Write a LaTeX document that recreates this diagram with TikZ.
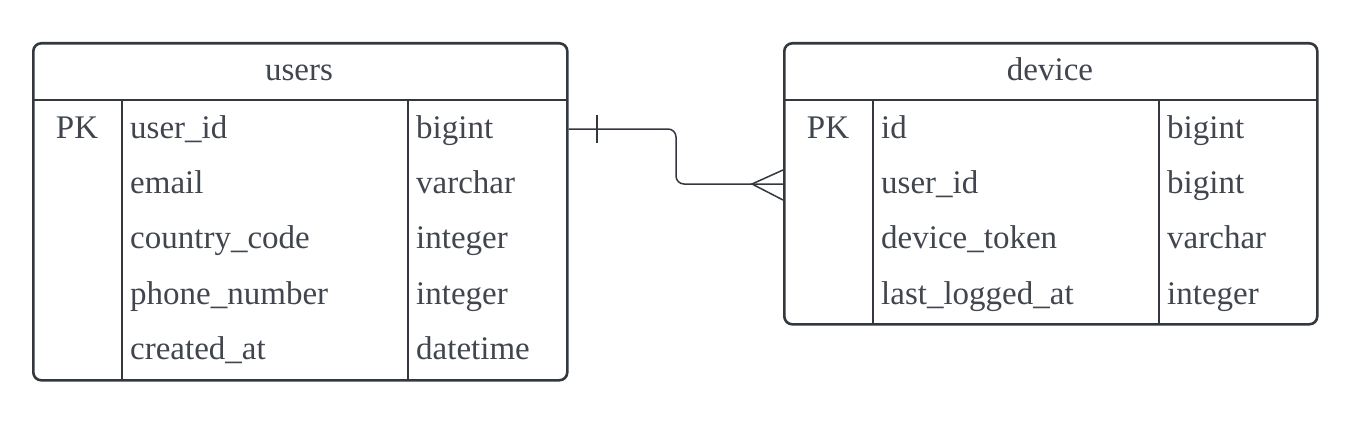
\documentclass[tikz,border=0pt]{standalone}
\usepackage{fontspec}
\setmainfont{Liberation Serif}
\definecolor{erline}{HTML}{33383F}
\definecolor{ertext}{HTML}{41464E}
\tikzset{
    tablebox/.style={draw=erline, line width=2.6pt, rounded corners=8pt, anchor=north west, inner sep=0pt},
    rule/.style={draw=erline, line width=2.6pt},
    field/.style={anchor=base west, inner sep=0pt, text=ertext},
    keycell/.style={anchor=base, inner sep=0pt, text=ertext},
    relation/.style={draw=erline, line width=1.5pt}
}
\begin{document}
\begin{tikzpicture}[x=1pt, y=-1pt, font=\fontsize{33}{39}\selectfont]
            \useasboundingbox (0,0) rectangle (1350,428);
            % users
            \node[tablebox, minimum width=534pt, minimum height=337pt] (users) at (32,42) {};
            \draw[rule] (32,100) -- (566,100);
            \draw[rule] (122,100) -- (122,379);
            \draw[rule] (408,100) -- (408,379);
            \node[keycell] (users-title) at (299,81) {users};
            \node[keycell] (users-pk) at (77,138) {PK};
            \node[field] (users-id) at (130,138) {user\_id};
            \node[field] (users-id-t) at (416,138) {bigint};
            \node[field] (users-email) at (130,193) {email};
            \node[field] (users-email-t) at (416,193) {varchar};
            \node[field] (users-cc) at (130,248) {country\_code};
            \node[field] (users-cc-t) at (416,248) {integer};
            \node[field] (users-phone) at (130,304) {phone\_number};
            \node[field] (users-phone-t) at (416,304) {integer};
            \node[field] (users-created) at (130,359) {created\_at};
            \node[field] (users-created-t) at (416,359) {datetime};
            % device
            \node[tablebox, minimum width=533pt, minimum height=281pt] (device) at (783,42) {};
            \draw[rule] (783,100) -- (1316,100);
            \draw[rule] (873,100) -- (873,323);
            \draw[rule] (1159,100) -- (1159,323);
            \node[keycell] (device-title) at (1050,81) {device};
            \node[keycell] (device-pk) at (828,138) {PK};
            \node[field] (device-id) at (881,138) {id};
            \node[field] (device-id-t) at (1167,138) {bigint};
            \node[field] (device-uid) at (881,193) {user\_id};
            \node[field] (device-uid-t) at (1167,193) {bigint};
            \node[field] (device-token) at (881,248) {device\_token};
            \node[field] (device-token-t) at (1167,248) {varchar};
            \node[field] (device-last) at (881,304) {last\_logged\_at};
            \node[field] (device-last-t) at (1167,304) {integer};
            % relation
            \coordinate (one) at (users.east |- 0,129);
            \coordinate (many) at (device.west |- 0,184);
            \draw[relation, rounded corners=8pt] (one) -- (676,129) |- (many);
            \draw[relation] (597,115) -- (597,143);
            \draw[relation] (many) ++(0,-14) -- (752,184) -- ++(31,16);
\end{tikzpicture}
\end{document}
